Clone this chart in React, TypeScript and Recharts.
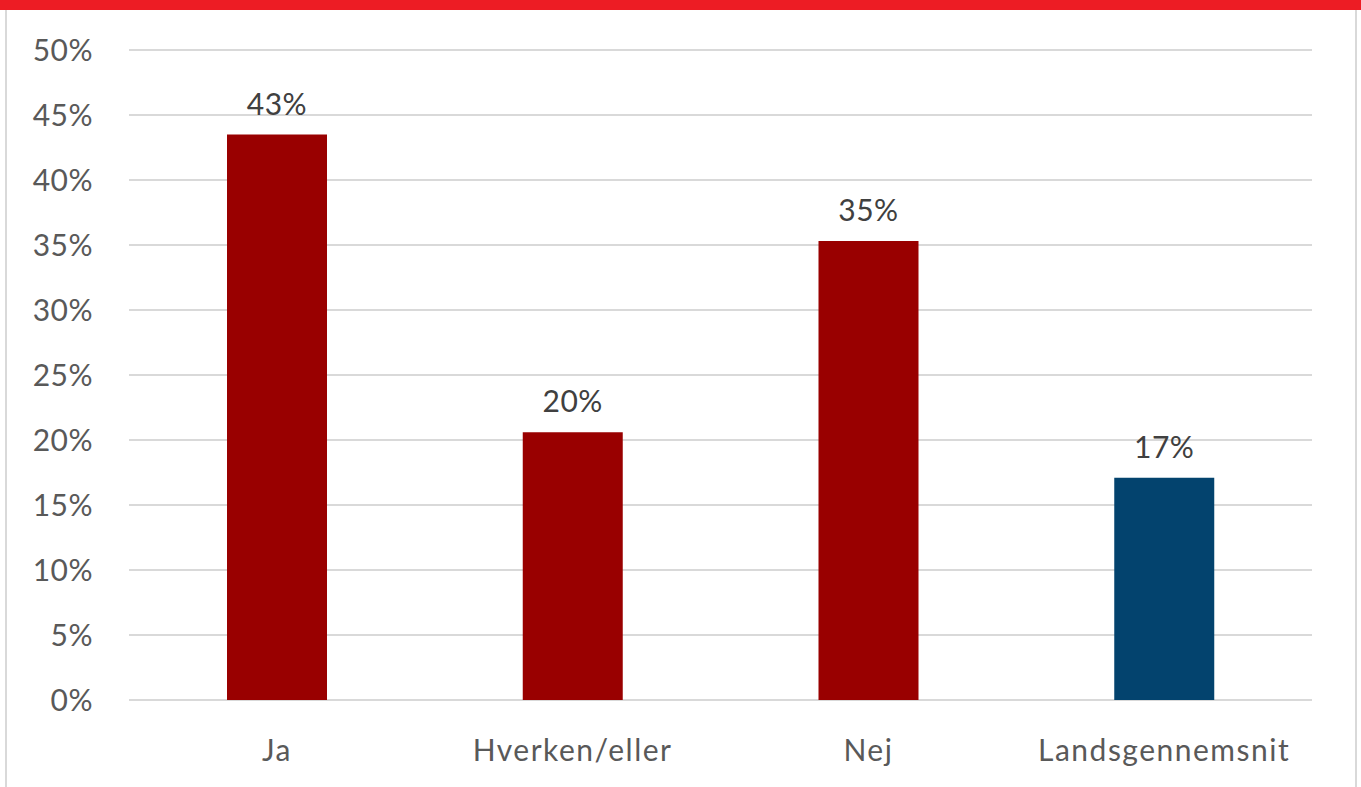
import { BarChart, Bar, XAxis, YAxis, CartesianGrid, Cell, LabelList } from "recharts";

const categories = ["Ja", "Hverken/eller", "Nej", "Landsgennemsnit"];
const shares = [0.435, 0.206, 0.353, 0.171];
const yTicks = [0, 0.05, 0.1, 0.15, 0.2, 0.25, 0.3, 0.35, 0.4, 0.45, 0.5];

const barColors = ["#990000", "#990000", "#990000", "#03436E"];

const data = categories.map((name, i) => ({ name, value: shares[i] }));

const pct = (v: number) => `${Math.round(v * 100)}%`;
const pctLabel = (v: any) => `${Math.floor(Number(v) * 100)}%`;

export default function App() {
  return (
    <div style={styles.page}>
      <div style={styles.topBar} />
      <div style={styles.leftLine} />
      <div style={styles.rightLine} />
      <BarChart
        width={1361}
        height={787}
        data={data}
        margin={{ top: 50, right: 49, left: 0, bottom: 27 }}
        style={{ fontFamily: "Lato, sans-serif" }}
      >
        <CartesianGrid vertical={false} stroke="#d9d9d9" strokeWidth={2.2} />
        <XAxis
          dataKey="name"
          height={60}
          axisLine={false}
          tickLine={false}
          tickSize={0}
          tickMargin={40}
          tick={{ fill: "#595959", fontSize: 30, letterSpacing: 1.5 }}
          interval={0}
        />
        <YAxis
          width={129}
          domain={[0, 0.5]}
          ticks={yTicks}
          tickFormatter={pct}
          axisLine={false}
          tickLine={false}
          tickSize={0}
          tickMargin={36}
          tick={{ fill: "#595959", fontSize: 30, letterSpacing: 0.5 }}
        />
        <Bar dataKey="value" barSize={100} isAnimationActive={false}>
          {data.map((d, i) => (
            <Cell key={d.name} fill={barColors[i]} />
          ))}
          <LabelList
            dataKey="value"
            position="top"
            offset={20}
            formatter={pctLabel}
            style={{ fill: "#404040", fontSize: 30, letterSpacing: 0.5 }}
          />
        </Bar>
      </BarChart>
    </div>
  );
}

const styles: Record<string, React.CSSProperties> = {
  page: {
    position: "absolute",
    top: 0,
    left: 0,
    width: 1361,
    height: 787,
    background: "white",
    overflow: "hidden",
  },
  topBar: {
    position: "absolute",
    top: 0,
    left: 0,
    width: 1361,
    height: 10,
    background: "#ED1C24",
  },
  leftLine: {
    position: "absolute",
    top: 10,
    left: 5,
    width: 2,
    height: 777,
    background: "#d9d9d9",
  },
  rightLine: {
    position: "absolute",
    top: 10,
    left: 1355,
    width: 2,
    height: 777,
    background: "#d9d9d9",
  },
};
